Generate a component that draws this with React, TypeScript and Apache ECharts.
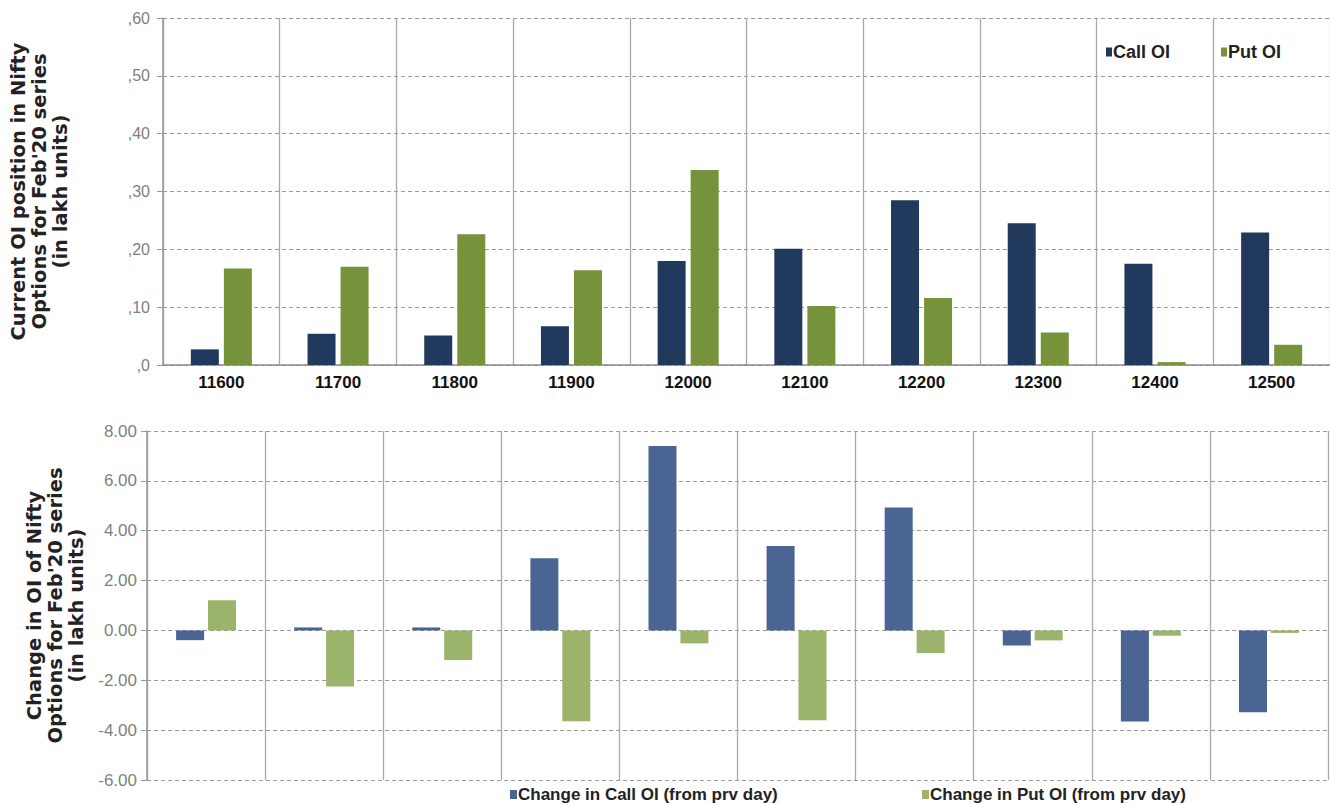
import React, { useEffect, useRef } from "react";
import * as echarts from "echarts";

const categories = ["11600", "11700", "11800", "11900", "12000", "12100", "12200", "12300", "12400", "12500"];
const callOI = [2.7, 5.4, 5.1, 6.7, 18.0, 20.1, 28.5, 24.5, 17.5, 22.9];
const putOI = [16.7, 17.0, 22.6, 16.4, 33.7, 10.2, 11.6, 5.6, 0.5, 3.5];
const callChange = [-0.39, 0.12, 0.12, 2.9, 7.4, 3.39, 4.93, -0.6, -3.65, -3.28];
const putChange = [1.21, -2.25, -1.19, -3.64, -0.52, -3.6, -0.91, -0.4, -0.21, -0.1];

const topAxis = { min: 0, max: 60, interval: 10 };
const bottomAxis = { min: -6, max: 8, interval: 2 };

const SANS = "'Liberation Sans', Arial, sans-serif";
const WIDE = "'DejaVu Sans', Verdana, sans-serif";

export default function App() {
  const ref = useRef<HTMLDivElement>(null);
  useEffect(() => {
    document.body.style.margin = "0";
    const chart = echarts.init(ref.current!, null, { renderer: "svg" });
    const gridLine = { show: true, lineStyle: { color: "#9a9a9a", type: [4, 3] as any, width: 1 } };
    const vLine = { show: true, lineStyle: { color: "#a8a8a8", type: "solid" as any, width: 1.3 } };
    const yLabel = { color: "#7f7f7f", fontFamily: SANS };
    const titleStyle = { color: "#222", fontFamily: WIDE, fontWeight: "bold" as any, fontSize: 19.5, lineHeight: 21 };
    const legendText = (size: number) => ({ fontFamily: SANS, fontWeight: "bold", fontSize: size, color: "#222", padding: [0, 0, 0, -4] });
    chart.setOption({
      animation: false,
      backgroundColor: "#ffffff",
      legend: [
        { data: ["Call OI"], left: 1101, top: 38, icon: "rect", itemWidth: 6, itemHeight: 9, textStyle: legendText(18) },
        { data: ["Put OI"], left: 1216, top: 38, icon: "rect", itemWidth: 6, itemHeight: 9, textStyle: legendText(18) },
        { data: ["Change in Call OI (from prv day)"], left: 505, top: 781, icon: "rect", itemWidth: 7, itemHeight: 9, textStyle: legendText(17) },
        { data: ["Change in Put OI (from prv day)"], left: 917, top: 781, icon: "rect", itemWidth: 7, itemHeight: 9, textStyle: legendText(17) },
      ],
      grid: [
        { left: 162, top: 18, width: 1168, height: 347 },
        { left: 147, top: 431, width: 1181, height: 349 },
      ],
      xAxis: [
        {
          type: "category", gridIndex: 0, data: categories,
          axisLine: { lineStyle: { color: "#8a8a8a", width: 1.5 } },
          axisTick: { show: false },
          axisLabel: { color: "#111", fontFamily: SANS, fontWeight: "bold", fontSize: 17, margin: 9 },
          splitLine: vLine,
        },
        {
          type: "category", gridIndex: 1, data: categories,
          axisLine: { show: false }, axisTick: { show: false }, axisLabel: { show: false },
          splitLine: vLine,
        },
      ],
      yAxis: [
        {
          type: "value", gridIndex: 0, min: topAxis.min, max: topAxis.max, interval: topAxis.interval,
          axisLine: { show: true, lineStyle: { color: "#9a9a9a", width: 1.5 } },
          axisTick: { show: true, length: 6, lineStyle: { color: "#9a9a9a" } },
          axisLabel: { ...yLabel, fontSize: 16, margin: 13, formatter: (v: number) => "," + v },
          splitLine: gridLine,
          name: "Current OI position in Nifty\nOptions for Feb'20 series\n(in lakh units)",
          nameLocation: "middle", nameRotate: 90, nameGap: 92, nameTextStyle: titleStyle,
        },
        {
          type: "value", gridIndex: 1, min: bottomAxis.min, max: bottomAxis.max, interval: bottomAxis.interval,
          axisLine: { show: true, onZero: false, lineStyle: { color: "#9a9a9a", width: 1.5 } },
          axisTick: { show: true, length: 6, lineStyle: { color: "#9a9a9a" } },
          axisLabel: { ...yLabel, fontSize: 17, margin: 10, formatter: (v: number) => v.toFixed(2) },
          splitLine: gridLine,
          name: "Change in OI of Nifty\nOptions for Feb'20 series\n(in lakh units)",
          nameLocation: "middle", nameRotate: 90, nameGap: 51, nameTextStyle: titleStyle,
        },
      ],
      series: [
        { name: "Call OI", type: "bar", xAxisIndex: 0, yAxisIndex: 0, data: callOI, barWidth: 28, barGap: "18%", itemStyle: { color: "#22395e" } },
        { name: "Put OI", type: "bar", xAxisIndex: 0, yAxisIndex: 0, data: putOI, barWidth: 28, barGap: "18%", itemStyle: { color: "#76933c" } },
        { name: "Change in Call OI (from prv day)", type: "bar", xAxisIndex: 1, yAxisIndex: 1, data: callChange, barWidth: 28, barGap: "14%", itemStyle: { color: "#4a6494" } },
        { name: "Change in Put OI (from prv day)", type: "bar", xAxisIndex: 1, yAxisIndex: 1, data: putChange, barWidth: 28, barGap: "14%", itemStyle: { color: "#9bb36a" } },
      ],
    });
    return () => chart.dispose();
  }, []);
  return <div ref={ref} style={{ width: 1330, height: 804 }} />;
}
